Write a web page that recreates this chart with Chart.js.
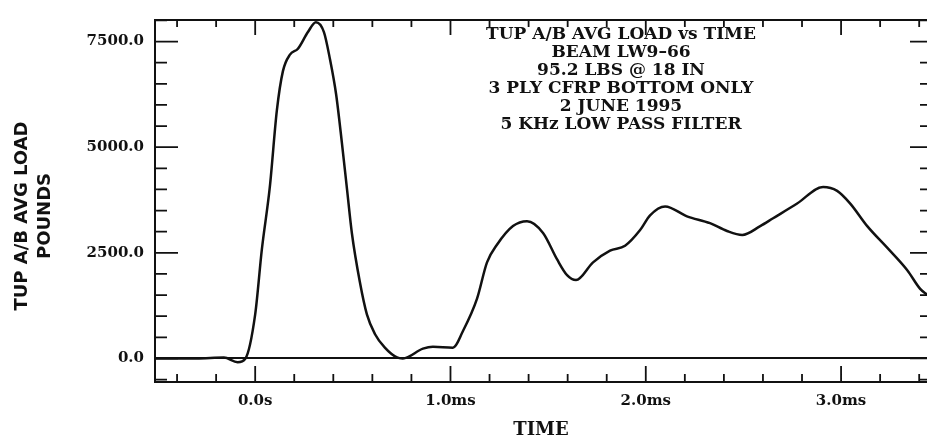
<!DOCTYPE html>
<html>
<head>
<meta charset="utf-8">
<script src="https://cdn.jsdelivr.net/npm/chart.js@4.4.1/dist/chart.umd.min.js"></script>
<style>
  html, body { margin: 0; padding: 0; background: #fff; }
  #wrap { width: 927px; height: 441px; }
</style>
</head>
<body>
<div id="wrap"><canvas id="loadChart"></canvas></div>
<script>
// time in ms, load in pounds
const timeMs = [
  -0.51, -0.30, -0.16, -0.09, -0.05, 0.00, 0.034, 0.075, 0.111, 0.142,
  0.178, 0.219, 0.270, 0.311, 0.352, 0.383, 0.414, 0.444, 0.470, 0.495,
  0.536, 0.572, 0.613, 0.664, 0.726, 0.756, 0.859, 0.910, 1.012, 1.064,
  1.136, 1.187, 1.238, 1.320, 1.392, 1.474, 1.546, 1.597, 1.643, 1.730,
  1.817, 1.894, 1.971, 2.022, 2.099, 2.211, 2.329, 2.416, 2.494, 2.586,
  2.652, 2.775, 2.908, 2.980, 3.047, 3.134, 3.236, 3.339, 3.405, 3.441
];
const loadLbs = [
  0, 0, 20, -90, 0, 1044, 2575, 4060, 5870, 6800,
  7190, 7330, 7725, 7958, 7725, 7080, 6264, 5104, 4014, 2970,
  1810, 1044, 580, 255, 23, 0, 232, 278, 255, 650,
  1415, 2274, 2690, 3132, 3248, 2970, 2343, 1972, 1856, 2274,
  2552, 2668, 3039, 3387, 3596, 3364, 3202, 3016, 2923, 3132,
  3318, 3666, 4060, 3967, 3666, 3132, 2622, 2088, 1647, 1508
];

const xTicks = [0, 1, 2, 3];
const xTickLabels = ['0.0s', '1.0ms', '2.0ms', '3.0ms'];
const yTicks = [0, 2500, 5000, 7500];
const yTickLabels = ['0.0', '2500.0', '5000.0', '7500.0'];
const yTitleLines = ['TUP A/B AVG LOAD', 'POUNDS'];
const noteLines = [
  'TUP A/B AVG LOAD vs TIME',
  'BEAM LW9\u201366',
  '95.2 LBS @ 18 IN',
  '3 PLY CFRP BOTTOM ONLY',
  '2 JUNE 1995',
  '5 KHz LOW PASS FILTER'
];

const INK = '#111';
const xMinor = 0.2;
const yMinor = 500;

// inward tick marks on all four sides, the frame, and the text blocks
const frameTicks = {
  id: 'frameTicks',
  afterDatasetsDraw(chart) {
    const { ctx, chartArea: a, scales: { x, y } } = chart;
    ctx.save();
    ctx.strokeStyle = INK;
    ctx.lineWidth = 2;
    ctx.beginPath();
    ctx.moveTo(a.right + 2, a.top);
    ctx.lineTo(a.left, a.top);
    ctx.lineTo(a.left, a.bottom);
    ctx.lineTo(a.right + 2, a.bottom);
    ctx.stroke();

    ctx.lineWidth = 1.8;
    ctx.beginPath();
    const kx0 = Math.ceil(x.min / xMinor), kx1 = Math.floor(x.max / xMinor);
    for (let k = kx0; k <= kx1; k++) {
      const px = x.getPixelForValue(k * xMinor);
      const major = k % 5 === 0;
      ctx.moveTo(px, a.bottom);
      ctx.lineTo(px, a.bottom - (major ? 16 : 8));
      ctx.moveTo(px, a.top);
      ctx.lineTo(px, a.top + (major ? 15 : 7));
    }
    const ky0 = Math.ceil(y.min / yMinor), ky1 = Math.floor(y.max / yMinor);
    for (let k = ky0; k <= ky1; k++) {
      const py = y.getPixelForValue(k * yMinor);
      const major = k % 5 === 0;
      ctx.moveTo(a.left, py);
      ctx.lineTo(a.left + (major ? 23 : 12), py);
      ctx.moveTo(a.right, py);
      ctx.lineTo(a.right - (major ? 17 : 7), py);
    }
    ctx.stroke();

    ctx.fillStyle = INK;
    ctx.textAlign = 'center';
    ctx.textBaseline = 'middle';

    // note block in the upper right
    ctx.font = 'bold 17px "DejaVu Serif", serif';
    noteLines.forEach((line, i) => ctx.fillText(line, 621, 35 + i * 18));

    // rotated y title, sits a bit below the axis middle like the scan
    ctx.font = 'bold 18px "DejaVu Sans", sans-serif';
    ctx.translate(0, 216);
    ctx.rotate(-Math.PI / 2);
    yTitleLines.forEach((line, i) => ctx.fillText(line, 0, 22 + i * 23));
    ctx.restore();
  }
};

new Chart(document.getElementById('loadChart'), {
  type: 'line',
  data: {
    datasets: [{
      data: timeMs.map((t, i) => ({ x: t, y: loadLbs[i] })),
      borderColor: INK,
      borderWidth: 2.5,
      pointRadius: 0,
      cubicInterpolationMode: 'monotone',
      fill: false,
    }],
  },
  options: {
    responsive: true,
    maintainAspectRatio: false,
    animation: false,
    layout: { padding: { top: 13, right: 0, bottom: 0, left: 0 } },
    plugins: {
      legend: { display: false },
      tooltip: { enabled: false },
    },
    scales: {
      x: {
        type: 'linear',
        min: -0.513,
        max: 3.44,
        afterBuildTicks: s => { s.ticks = xTicks.map(v => ({ value: v })); },
        afterFit: s => { s.height = 59; },
        border: { display: false },
        grid: { display: false, drawTicks: false },
        ticks: {
          padding: 10,
          maxRotation: 0,
          autoSkip: false,
          color: INK,
          font: { family: '"DejaVu Serif", serif', size: 15, weight: 'bold' },
          callback: v => xTickLabels[xTicks.indexOf(v)],
        },
        title: {
          display: true,
          text: 'TIME',
          color: INK,
          padding: 0,
          font: { family: '"DejaVu Serif", serif', size: 18, weight: 'bold' },
        },
      },
      y: {
        type: 'linear',
        min: -557,
        max: 8010,
        afterBuildTicks: s => { s.ticks = yTicks.map(v => ({ value: v })); },
        afterFit: s => { s.width = 155; },
        border: { display: false },
        grid: {
          drawTicks: false,
          lineWidth: 2,
          color: c => (c.tick && c.tick.value === 0 ? INK : 'rgba(0,0,0,0)'),
        },
        ticks: {
          padding: 11,
          color: INK,
          font: { family: '"DejaVu Serif", serif', size: 15, weight: 'bold' },
          callback: v => yTickLabels[yTicks.indexOf(v)],
        },
      },
    },
  },
  plugins: [frameTicks],
});
</script>
</body>
</html>
